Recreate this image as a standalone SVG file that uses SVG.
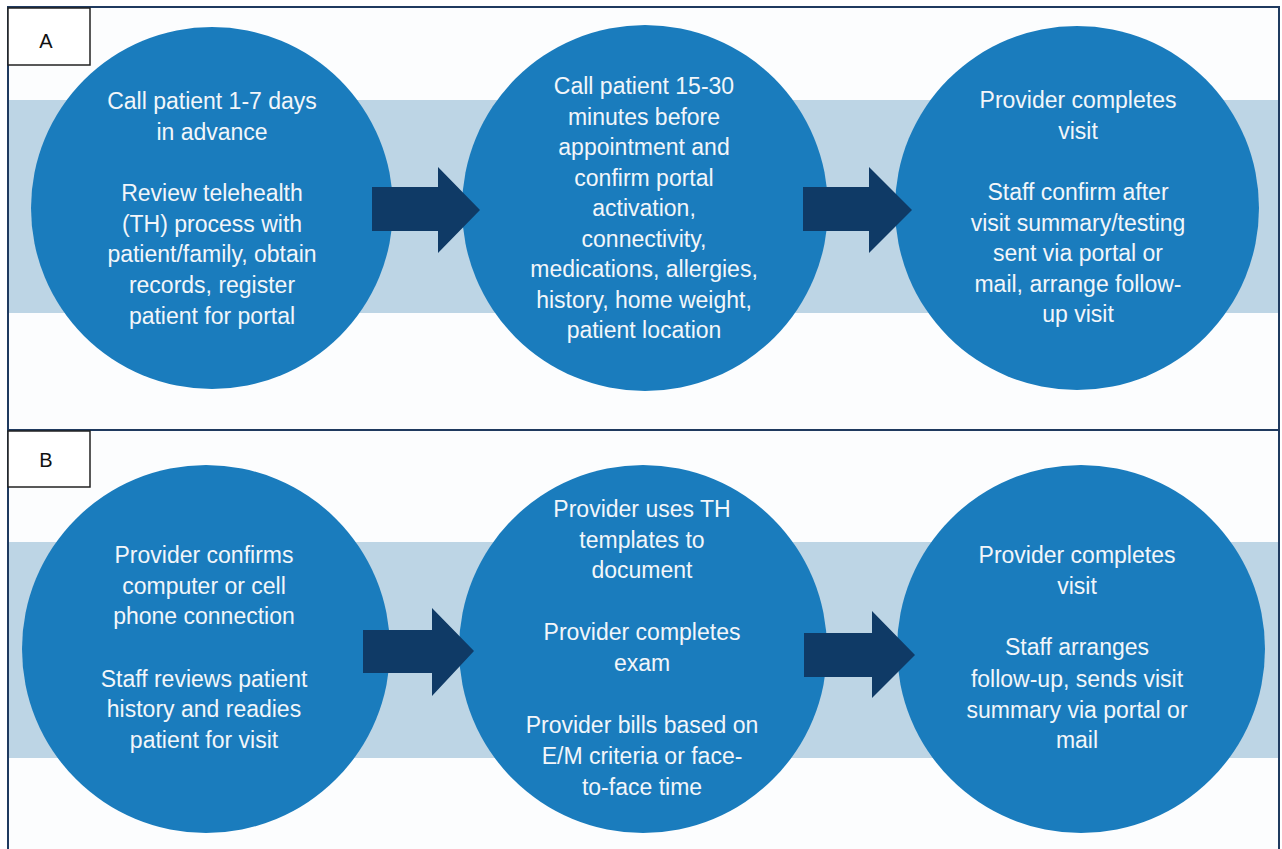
<svg xmlns="http://www.w3.org/2000/svg" width="1282" height="849" viewBox="0 0 1282 849">
<style>
.panel{fill:#fcfdfe;stroke:#1f3a5f;stroke-width:2}
.band{fill:#bdd5e5}
.circ{fill:#1a7cbd}
.arrow{fill:#0f3a66}
.lbl{fill:#ffffff;stroke:#222222;stroke-width:1.5}
.lt{font-family:"Liberation Sans",Arial,sans-serif;font-size:20px;fill:#111111;text-anchor:middle}
.t{font-family:"Liberation Sans",Arial,sans-serif;font-size:23px;fill:#f2f6fa;text-anchor:middle}
</style>
<rect width="1282" height="849" fill="#ffffff"/>
<g id="panelA">
<rect class="panel" x="8" y="7" width="1271" height="423"/>
<rect class="band" x="9" y="100" width="1269" height="213"/>
</g>
<g id="panelB">
<rect class="panel" x="8" y="430" width="1271" height="425"/>
<rect class="band" x="9" y="542" width="1269" height="216"/>
</g>
<g id="labelA"><rect class="lbl" x="8" y="8" width="82" height="57"/><text class="lt" x="46" y="48">A</text></g>
<g id="labelB"><rect class="lbl" x="8" y="431" width="82" height="56"/><text class="lt" x="46" y="467">B</text></g>
<g id="a1"><circle class="circ" cx="212" cy="208" r="181"/>
<text class="t"><tspan x="212" y="109">Call patient 1-7 days</tspan><tspan x="212" y="139.7">in advance</tspan><tspan x="212" y="201">Review telehealth</tspan><tspan x="212" y="231.7">(TH) process with</tspan><tspan x="212" y="262.4">patient/family, obtain</tspan><tspan x="212" y="293">records, register</tspan><tspan x="212" y="323.8">patient for portal</tspan></text></g>
<g id="a2"><circle class="circ" cx="645" cy="208" r="183"/>
<text class="t"><tspan x="644" y="94">Call patient 15-30</tspan><tspan x="644" y="125">minutes before</tspan><tspan x="644" y="155">appointment and</tspan><tspan x="644" y="185.5">confirm portal</tspan><tspan x="644" y="216">activation,</tspan><tspan x="644" y="246.5">connectivity,</tspan><tspan x="644" y="277">medications, allergies,</tspan><tspan x="644" y="307.5">history, home weight,</tspan><tspan x="644" y="338">patient location</tspan></text></g>
<g id="a3"><circle class="circ" cx="1077" cy="208" r="182"/>
<text class="t"><tspan x="1078" y="108">Provider completes</tspan><tspan x="1078" y="138.5">visit</tspan><tspan x="1078" y="200">Staff confirm after</tspan><tspan x="1078" y="230.5">visit summary/testing</tspan><tspan x="1078" y="261">sent via portal or</tspan><tspan x="1078" y="291.5">mail, arrange follow-</tspan><tspan x="1078" y="322">up visit</tspan></text></g>
<g id="b1"><circle class="circ" cx="206" cy="649" r="184"/>
<text class="t"><tspan x="204" y="563">Provider confirms</tspan><tspan x="204" y="593.5">computer or cell</tspan><tspan x="204" y="624">phone connection</tspan><tspan x="204" y="686.5">Staff reviews patient</tspan><tspan x="204" y="717">history and readies</tspan><tspan x="204" y="748">patient for visit</tspan></text></g>
<g id="b2"><circle class="circ" cx="643" cy="649" r="184"/>
<text class="t"><tspan x="642" y="517">Provider uses TH</tspan><tspan x="642" y="547.5">templates to</tspan><tspan x="642" y="578">document</tspan><tspan x="642" y="640">Provider completes</tspan><tspan x="642" y="671">exam</tspan><tspan x="642" y="733">Provider bills based on</tspan><tspan x="642" y="763.5">E/M criteria or face-</tspan><tspan x="642" y="794.5">to-face time</tspan></text></g>
<g id="b3"><circle class="circ" cx="1081" cy="649" r="184"/>
<text class="t"><tspan x="1077" y="563">Provider completes</tspan><tspan x="1077" y="593.5">visit</tspan><tspan x="1077" y="655">Staff arranges</tspan><tspan x="1077" y="686.5">follow-up, sends visit</tspan><tspan x="1077" y="717.5">summary via portal or</tspan><tspan x="1077" y="748">mail</tspan></text></g>
<g id="connectors">
<path class="arrow" d="M372,187 H438 V167 L480,210 L438,253 V231 H372 Z"/>
<path class="arrow" d="M803,187 H869 V167 L912,210 L869,253 V231 H803 Z"/>
<path class="arrow" d="M363,630 H432 V608 L474,651 L432,696 V673 H363 Z"/>
<path class="arrow" d="M804,633 H872 V611 L915,655 L872,698 V677 H804 Z"/>
</g>
</svg>
